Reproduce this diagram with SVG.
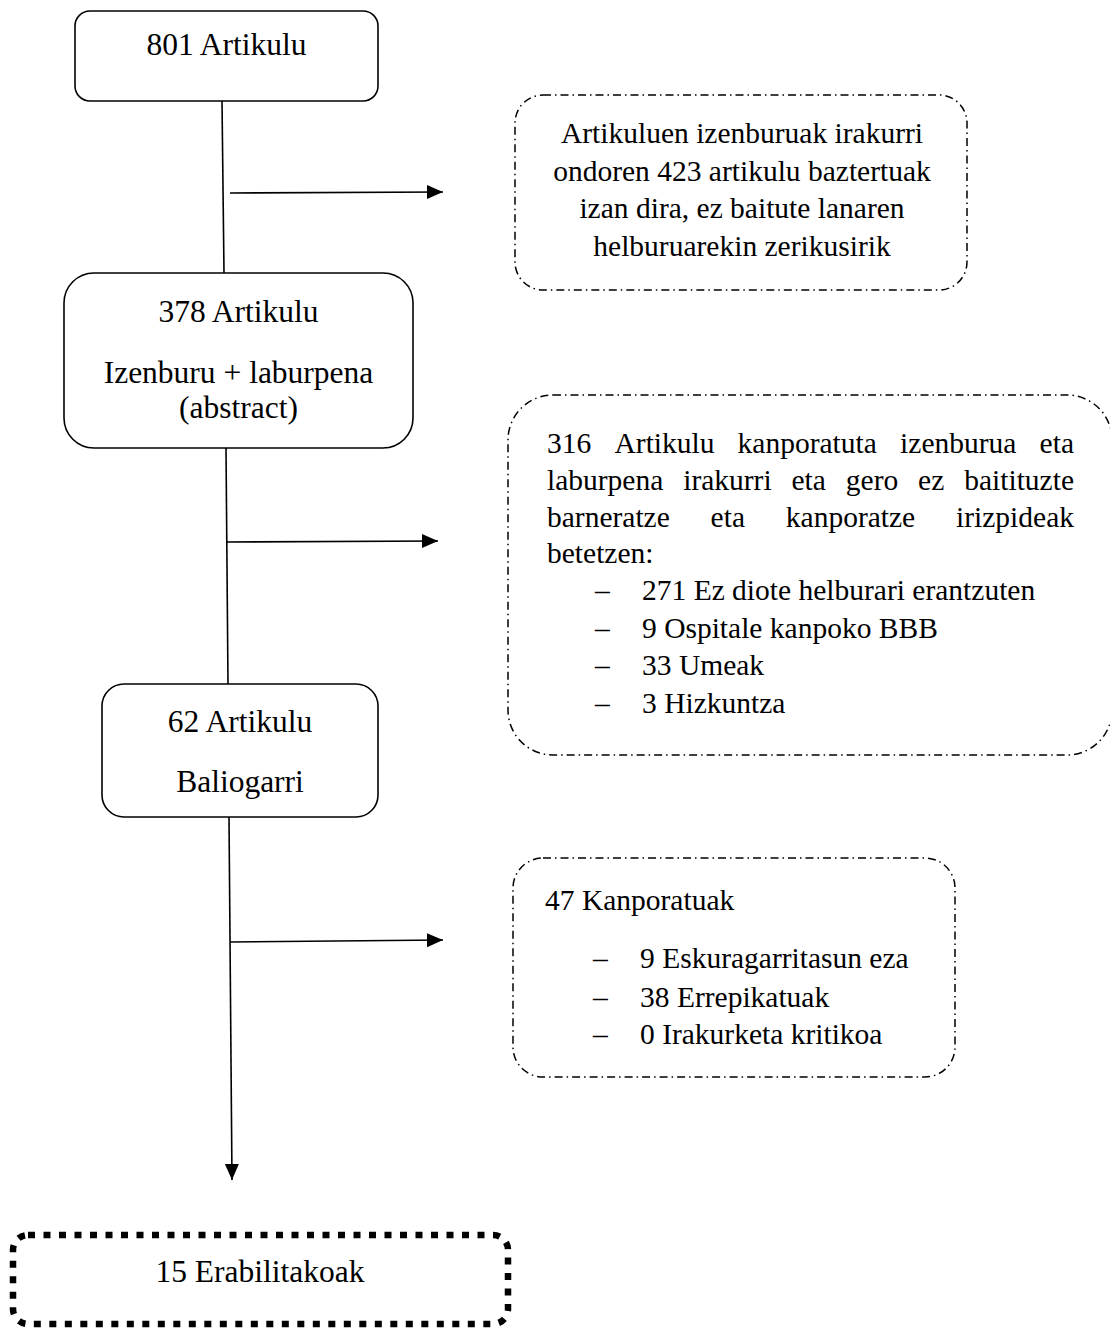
<svg xmlns="http://www.w3.org/2000/svg" width="1110" height="1331" viewBox="0 0 1110 1331">
<style>
.node{fill:#fff;stroke:#000;stroke-width:1.6}
.note{fill:#fff;stroke:#000;stroke-width:1.5;stroke-dasharray:8 4 1.5 4}
.final{fill:#fff;stroke:#000;stroke-width:6.5;stroke-dasharray:7 8.5}
.conn{stroke:#000;stroke-width:1.6;fill:none}
text{font-family:"Liberation Serif","Times New Roman",serif;fill:#000}
.big{font-size:31.5px}
.sm{font-size:29.5px}
.c{text-anchor:middle}
.e{text-anchor:end}
</style>
<defs>
<marker id="arr" markerUnits="userSpaceOnUse" markerWidth="18" markerHeight="16" refX="16" refY="7" orient="auto">
<path d="M0,0 L16,7 L0,14 Z" fill="#000"/>
</marker>
</defs>
<rect width="1110" height="1331" fill="#fff"/>
<g id="connectors">
<line class="conn" x1="222" y1="101" x2="224" y2="273"/>
<line class="conn" x1="230" y1="193" x2="443" y2="192" marker-end="url(#arr)"/>
<line class="conn" x1="226" y1="448" x2="228" y2="684"/>
<line class="conn" x1="226" y1="542" x2="438" y2="541" marker-end="url(#arr)"/>
<line class="conn" x1="229" y1="817" x2="232" y2="1180" marker-end="url(#arr)"/>
<line class="conn" x1="230" y1="942" x2="443" y2="940" marker-end="url(#arr)"/>
</g>
<g id="n801">
<rect class="node" x="75" y="11" width="303" height="90" rx="15"/>
<text class="big c" x="226.5" y="55">801 Artikulu</text>
</g>
<g id="n378">
<rect class="node" x="64" y="273" width="349" height="175" rx="30"/>
<text class="big c" x="238.5" y="322">378 Artikulu</text>
<text class="big c" x="238.5" y="383">Izenburu + laburpena</text>
<text class="big c" x="238.5" y="418">(abstract)</text>
</g>
<g id="n62">
<rect class="node" x="102" y="684" width="276" height="133" rx="22"/>
<text class="big c" x="240" y="732">62 Artikulu</text>
<text class="big c" x="240" y="792">Baliogarri</text>
</g>
<g id="n15">
<rect class="final" x="13" y="1235" width="495" height="89" rx="15"/>
<text class="big c" x="260" y="1282">15 Erabilitakoak</text>
</g>
<g id="note423">
<rect class="note" x="515" y="95" width="452" height="195" rx="28"/>
<text class="sm c" x="742" y="143">Artikuluen izenburuak irakurri</text>
<text class="sm c" x="742" y="181">ondoren 423 artikulu baztertuak</text>
<text class="sm c" x="742" y="218">izan dira, ez baitute lanaren</text>
<text class="sm c" x="742" y="256">helburuarekin zerikusirik</text>
</g>
<g id="note316">
<rect class="note" x="508" y="395" width="604" height="360" rx="45"/>
<text class="sm" y="453"><tspan x="547">316</tspan><tspan x="614.5">Artikulu</tspan><tspan x="737.6">kanporatuta</tspan><tspan x="900.1">izenburua</tspan></text>
<text class="sm e" x="1074" y="453">eta</text>
<text class="sm" y="490"><tspan x="547">laburpena</tspan><tspan x="683.2">irakurri</tspan><tspan x="791.5">eta</tspan><tspan x="845.8">gero</tspan><tspan x="918.1">ez</tspan></text>
<text class="sm e" x="1074" y="490">baitituzte</text>
<text class="sm" y="527"><tspan x="547">barneratze</tspan><tspan x="710.6">eta</tspan><tspan x="785.8">kanporatze</tspan></text>
<text class="sm e" x="1074" y="527">irizpideak</text>
<text class="sm" x="547" y="563">betetzen:</text>
<text class="sm" x="595" y="600">–</text><text class="sm" x="642" y="600">271 Ez diote helburari erantzuten</text>
<text class="sm" x="595" y="638">–</text><text class="sm" x="642" y="638">9 Ospitale kanpoko BBB</text>
<text class="sm" x="595" y="675">–</text><text class="sm" x="642" y="675">33 Umeak</text>
<text class="sm" x="595" y="713">–</text><text class="sm" x="642" y="713">3 Hizkuntza</text>
</g>
<g id="note47">
<rect class="note" x="513" y="858" width="442" height="219" rx="30"/>
<text class="sm" x="545" y="910">47 Kanporatuak</text>
<text class="sm" x="593" y="968">–</text><text class="sm" x="640" y="968">9 Eskuragarritasun eza</text>
<text class="sm" x="593" y="1007">–</text><text class="sm" x="640" y="1007">38 Errepikatuak</text>
<text class="sm" x="593" y="1044">–</text><text class="sm" x="640" y="1044">0 Irakurketa kritikoa</text>
</g>
</svg>
